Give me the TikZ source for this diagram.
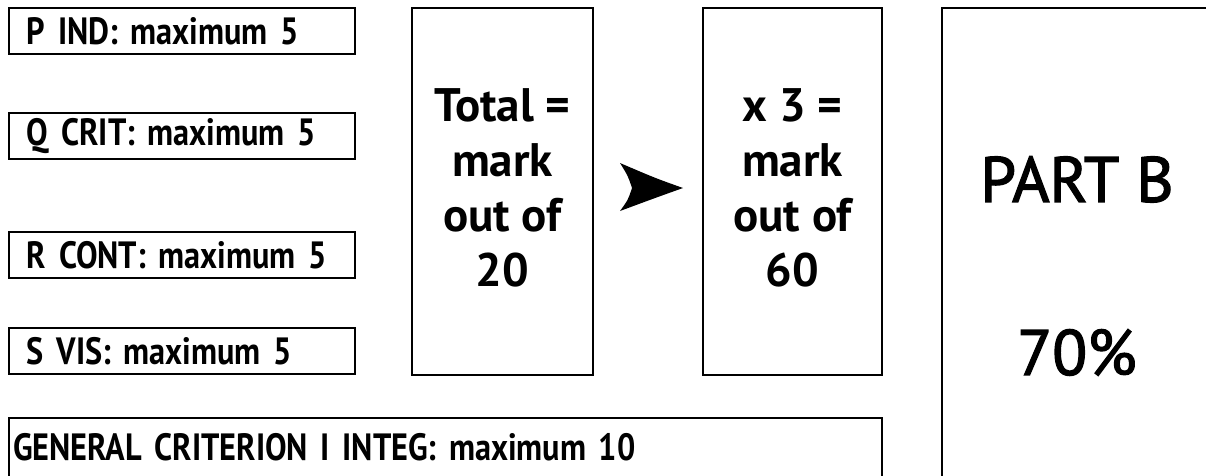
\documentclass[tikz,border=0pt]{standalone}
\usepackage{fontspec}
\setmainfont{PT Sans}
\newfontfamily\critfont{PT Sans}[FakeStretch=0.85]
\newfontfamily\partfont{PT Sans}[FakeBold=2]

\begin{document}
\begin{tikzpicture}[x=1pt, y=-1pt,
	critbox/.style={draw, line width=2pt, outer sep=0pt, anchor=west, text width=310pt, inner xsep=18pt, inner ysep=0pt, minimum height=46pt, align=left, font=\critfont\fontsize{38}{40}\selectfont\bfseries},
	markbox/.style={draw, line width=2pt, outer sep=0pt, minimum width=181pt, minimum height=367pt, align=center, text depth=8pt, font=\fontsize{47}{55}\selectfont\bfseries}]
	\useasboundingbox (0,0) rectangle (1206,475);
	\clip (0,0) rectangle (1206,475);
	\node[critbox] (pind) at (9,31) {P IND: maximum 5};
	\node[critbox] (qcrit) at (9,136) {Q CRIT: maximum 5};
	\node[critbox] (rcont) at (9,255) {R CONT: maximum 5};
	\node[critbox] (svis) at (9,351) {S VIS: maximum 5};
	\node[critbox, anchor=base west, text width=865pt, inner xsep=4pt, inner ysep=14pt, minimum height=0pt, text height=28pt, text depth=80pt] (integ) at (9,460) {GENERAL CRITERION I INTEG: maximum 10};
	\node[markbox] (total) at (502.5,191.5) {Total =\\mark\\out of\\20};
	\node[markbox, minimum width=179pt] (times) at (792.5,191.5) {x 3 =\\mark\\out of\\60};
	\node[draw, line width=2pt, outer sep=0pt, minimum width=270pt, minimum height=516pt, align=center, font=\partfont\fontsize{64}{173}\selectfont] (partb) at (1077,266) {PART B\\70\%};
	\coordinate (tip) at (683,188);
	\fill (tip) .. controls (655,178) .. (620,163) .. controls (628,176) .. (632,188) .. controls (628,200) .. (620,211) .. controls (655,198) .. (tip) -- cycle;
\end{tikzpicture}
\end{document}
